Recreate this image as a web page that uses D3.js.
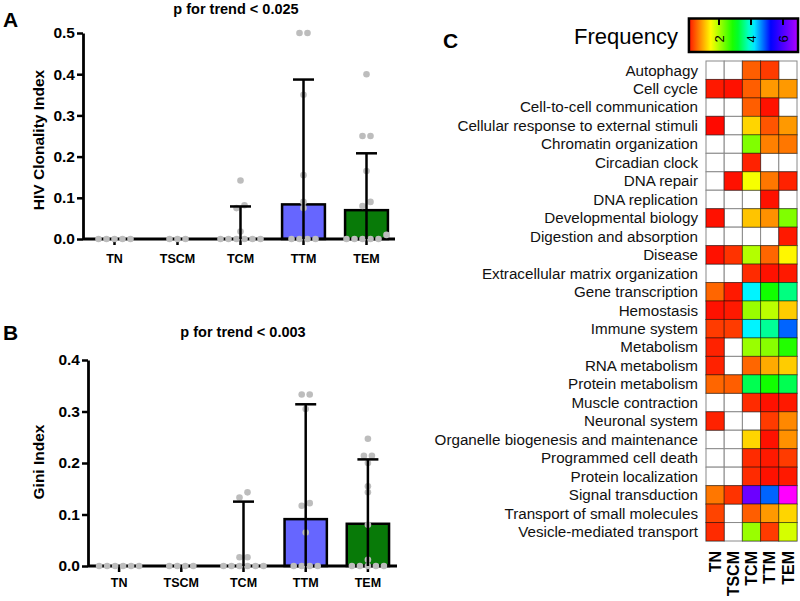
<!DOCTYPE html>
<html><head><meta charset="utf-8">
<script src="https://cdn.jsdelivr.net/npm/d3@7"></script>
<style>
body{margin:0;background:#fff}
svg{display:block;font-family:"Liberation Sans",Arial,Helvetica,sans-serif}
</style>
</head><body>
<svg id="c" width="800" height="601"></svg>
<script>
// ---------------- DATA ----------------
const cellTypes = ["TN", "TSCM", "TCM", "TTM", "TEM"];

const clonalityMean = [0, 0, 0, 0.084, 0.070];
const clonalityErrTop = [null, null, 0.079, 0.387, 0.208];
const clonalityPoints = [
  [0, 0, 0, 0, 0],
  [0, 0, 0],
  [0.018, 0.142, 0.082, 0.075, 0, 0, 0, 0, 0, 0],
  [0.5, 0.5, 0.35, 0.155, 0.09, 0.075, 0, 0, 0, 0],
  [0.4, 0.25, 0.25, 0.165, 0.09, 0.08, 0.01, 0, 0, 0, 0, 0]
];
const clonalityTicks = [0, 0.1, 0.2, 0.3, 0.4, 0.5];

const giniMean = [0, 0, 0, 0.091, 0.082];
const giniErrTop = [null, null, 0.125, 0.314, 0.207];
const giniPoints = [
  [0, 0, 0, 0, 0, 0],
  [0, 0, 0, 0],
  [0.133, 0.143, 0.017, 0.017, 0, 0, 0, 0, 0, 0],
  [0.333, 0.333, 0.305, 0.117, 0.122, 0.065, 0, 0, 0, 0],
  [0.247, 0.214, 0.214, 0.2, 0.155, 0.143, 0.08, 0.012, 0, 0, 0, 0, 0]
];
const giniTicks = [0, 0.1, 0.2, 0.3, 0.4];

const pathways = [
  "Autophagy", "Cell cycle", "Cell-to-cell communication",
  "Cellular response to external stimuli", "Chromatin organization",
  "Circadian clock", "DNA repair", "DNA replication", "Developmental biology",
  "Digestion and absorption", "Disease", "Extracellular matrix organization",
  "Gene transcription", "Hemostasis", "Immune system", "Metabolism",
  "RNA metabolism", "Protein metabolism", "Muscle contraction",
  "Neuronal system", "Organelle biogenesis and maintenance",
  "Programmed cell death", "Protein localization", "Signal transduction",
  "Transport of small molecules", "Vesicle-mediated transport"
];
// frequency per pathway for TN, TSCM, TCM, TTM, TEM (null = not present)
const frequency = [
  [null, null, 0.55, 0.35, null],
  [0.15, 0.1, 0.55, 0.9, 0.9],
  [null, null, 0.55, 0.1, null],
  [0.05, null, 1.25, 0.5, 0.9],
  [null, null, 2.25, 0.75, 0.7],
  [null, null, 0.2, null, null],
  [null, 0.1, 1.55, 0.7, 0.2],
  [null, null, null, 0.1, null],
  [0.1, null, 1.15, 0.85, 2.25],
  [null, null, null, null, 0.15],
  [0.1, 0.3, 1.95, 0.6, 1.45],
  [null, null, 0.25, 0.1, 0.15],
  [0.6, 0.15, 4.15, 2.9, 3.55],
  [0.1, 0.15, 2.1, 1.9, 1.2],
  [0.35, 0.35, 4.15, 3.65, 4.8],
  [0.2, null, 2.1, 2.2, 2.8],
  [0.2, null, 0.6, 1.0, 1.2],
  [0.6, 0.55, 3.35, 2.9, 3.35],
  [null, null, 0.25, 0.1, 0.15],
  [0.2, null, null, 0.35, 0.8],
  [null, null, 1.25, 0.1, 0.85],
  [null, null, 0.25, 0.15, 0.35],
  [null, null, 0.25, 0.1, 0.15],
  [0.7, 0.3, 6.3, 4.8, 7.4],
  [0.4, null, 0.55, 0.9, 1.25],
  [0.25, null, 2.1, 0.35, 1.75]
];
const colorbarTicks = [2, 4, 6];

// ---------------- DRAW ----------------
const svg = d3.select("#c");
const barColors = [null, null, "#bdbdbd", "#6666ff", "#087a08"];

function barPanel(cfg) {
  const g = svg.append("g");
  const x = d3.scaleBand().domain(cellTypes).range([cfg.x0, cfg.x1]).paddingInner(0.32).paddingOuter(0.16);
  const y = d3.scaleLinear().domain([0, cfg.ymax]).range([cfg.yBottom, cfg.yTop]);
  const cx = c => x(c) + x.bandwidth() / 2;

  // bars
  g.selectAll("rect.bar").data(cellTypes.filter((c, i) => cfg.mean[i] > 0)).join("rect")
    .attr("x", c => x(c)).attr("width", x.bandwidth())
    .attr("y", c => y(cfg.mean[cellTypes.indexOf(c)]))
    .attr("height", c => y(0) - y(cfg.mean[cellTypes.indexOf(c)]))
    .attr("fill", c => barColors[cellTypes.indexOf(c)])
    .attr("stroke", "#000").attr("stroke-width", 2.5);

  // axes
  const ya = g.append("g").attr("transform", `translate(${cfg.x0},0)`)
    .call(d3.axisLeft(y).tickValues(cfg.ticks).tickFormat(d3.format(".1f")).tickSize(6).tickPadding(2).tickSizeOuter(0));
  const xa = g.append("g").attr("transform", `translate(0,${cfg.yBottom})`)
    .call(d3.axisBottom(x).tickSize(6).tickPadding(cfg.xPad).tickSizeOuter(0));
  [ya, xa].forEach(a => {
    a.select(".domain").attr("stroke-width", 2.8);
    a.selectAll(".tick line").attr("stroke-width", 2.5);
    a.selectAll("text").attr("font-family", "Liberation Sans, Arial, sans-serif").attr("font-weight", "bold").attr("fill", "#000");
  });
  ya.selectAll("text").attr("font-size", 15.5);
  xa.selectAll("text").attr("font-size", 12.5);
  xa.select(".domain").attr("d", `M${cfg.x0},0H${cfg.xAxisEnd}`);

  // points (symmetric spread of near-equal values)
  const r = 3.3, step = 8;
  cellTypes.forEach((c, i) => {
    const vals = cfg.points[i].slice().sort((a, b) => a - b);
    const clusters = [];
    vals.forEach(v => {
      const last = clusters[clusters.length - 1];
      if (last && Math.abs(y(v) - y(last[last.length - 1])) < 6) last.push(v);
      else clusters.push([v]);
    });
    clusters.forEach(cl => {
      cl.forEach((v, k) => {
        g.append("circle").attr("cx", cx(c) + (k - (cl.length - 1) / 2) * step)
          .attr("cy", y(v)).attr("r", r).attr("fill", "#bdbdbd");
      });
    });
  });

  // error bars
  cellTypes.forEach((c, i) => {
    const t = cfg.err[i];
    if (t == null) return;
    g.append("line").attr("x1", cx(c)).attr("x2", cx(c)).attr("y1", y(0)).attr("y2", y(t))
      .attr("stroke", "#000").attr("stroke-width", 2.5);
    g.append("line").attr("x1", cx(c) - 10.5).attr("x2", cx(c) + 10.5).attr("y1", y(t)).attr("y2", y(t))
      .attr("stroke", "#000").attr("stroke-width", 2.5);
  });

  // texts
  g.append("text").attr("x", cfg.titleX).attr("y", cfg.titleY).attr("text-anchor", "middle")
    .attr("font-weight", "bold").attr("font-size", 14.5).text(cfg.title);
  g.append("text").attr("transform", `translate(${cfg.ylabX},${cfg.ylabY}) rotate(-90)`)
    .attr("text-anchor", "middle").attr("font-weight", "bold").attr("font-size", 15.5).text(cfg.ylabel);
  g.append("text").attr("x", 3).attr("y", cfg.letterY).attr("font-weight", "bold").attr("font-size", 21).text(cfg.letter);
}

barPanel({
  x0: 83, x1: 398, xAxisEnd: 395, yTop: 33, yBottom: 239, ymax: 0.5, ticks: clonalityTicks,
  mean: clonalityMean, err: clonalityErrTop, points: clonalityPoints, xPad: 9,
  title: "p for trend < 0.025", titleX: 236, titleY: 14,
  ylabel: "HIV Clonality Index", ylabX: 44, ylabY: 140, letter: "A", letterY: 27
});
barPanel({
  x0: 88, x1: 399, xAxisEnd: 397, yTop: 360, yBottom: 566, ymax: 0.4, ticks: giniTicks,
  mean: giniMean, err: giniErrTop, points: giniPoints, xPad: 6,
  title: "p for trend < 0.003", titleX: 243, titleY: 337,
  ylabel: "Gini Index", ylabX: 44, ylabY: 462, letter: "B", letterY: 340
});

// ---------------- HEATMAP ----------------
const hm = svg.append("g");
const hx = d3.scaleBand().domain(cellTypes).range([706, 797]);
const hy = d3.scaleBand().domain(pathways).range([61, 541]);
const hue = d3.scaleLinear().domain([0, 1.5, 3, 4.1, 5.25, 6.9, 7.4]).range([0, 60, 120, 180, 240, 280, 300]);
const colorOf = v => d3.hsl(hue(v), 1, 0.5).formatHex();

// background grid
pathways.forEach(p => cellTypes.forEach(c => {
  hm.append("rect").attr("x", hx(c)).attr("y", hy(p)).attr("width", hx.bandwidth()).attr("height", hy.bandwidth())
    .attr("fill", "#fff").attr("stroke", "#8a8a8a").attr("stroke-width", 1);
}));
// colored cells
pathways.forEach((p, i) => cellTypes.forEach((c, j) => {
  const v = frequency[i][j];
  if (v == null) return;
  hm.append("rect").attr("x", hx(c)).attr("y", hy(p)).attr("width", hx.bandwidth()).attr("height", hy.bandwidth())
    .attr("fill", colorOf(v)).attr("stroke", "rgba(0,0,0,0.45)").attr("stroke-width", 1);
}));
// row labels
hm.selectAll("text.row").data(pathways).join("text")
  .attr("x", 698).attr("y", p => hy(p) + hy.bandwidth() / 2).attr("dy", "0.35em")
  .attr("text-anchor", "end").attr("font-size", 15.2).attr("fill", "#111").text(p => p);
// column labels
hm.selectAll("text.col").data(cellTypes).join("text")
  .attr("transform", c => `translate(${hx(c) + hx.bandwidth() / 2},551) rotate(-90)`)
  .attr("dy", "0.36em").attr("text-anchor", "end").attr("font-weight", "bold").attr("font-size", 16).text(c => c);
// panel letter
svg.append("text").attr("x", 443).attr("y", 48).attr("font-weight", "bold").attr("font-size", 21).text("C");

// colorbar
const cb = d3.scaleLinear().domain([0, 7]).range([687, 799]);
const defs = svg.append("defs");
const grad = defs.append("linearGradient").attr("id", "rb").attr("x1", "0%").attr("x2", "100%");
const v0 = 0.12, v1 = 6.94;
d3.range(0, 21).forEach(k => {
  const v = v0 + (v1 - v0) * k / 20;
  grad.append("stop").attr("offset", (k * 5) + "%").attr("stop-color", colorOf(v));
});
svg.append("rect").attr("x", cb(v0)).attr("y", 18.5).attr("width", cb(v1) - cb(v0)).attr("height", 33.5)
  .attr("fill", "url(#rb)").attr("stroke", "#000").attr("stroke-width", 2.5);
colorbarTicks.forEach(t => {
  svg.append("line").attr("x1", cb(t)).attr("x2", cb(t)).attr("y1", 19).attr("y2", 25)
    .attr("stroke", "#000").attr("stroke-width", 2);
  svg.append("text").attr("transform", `translate(${cb(t)},39) rotate(-90)`)
    .attr("text-anchor", "middle").attr("dy", "0.36em").attr("font-size", 13).text(t);
});
svg.append("text").attr("x", 678).attr("y", 44).attr("text-anchor", "end").attr("font-size", 22).text("Frequency");
</script>
</body></html>
